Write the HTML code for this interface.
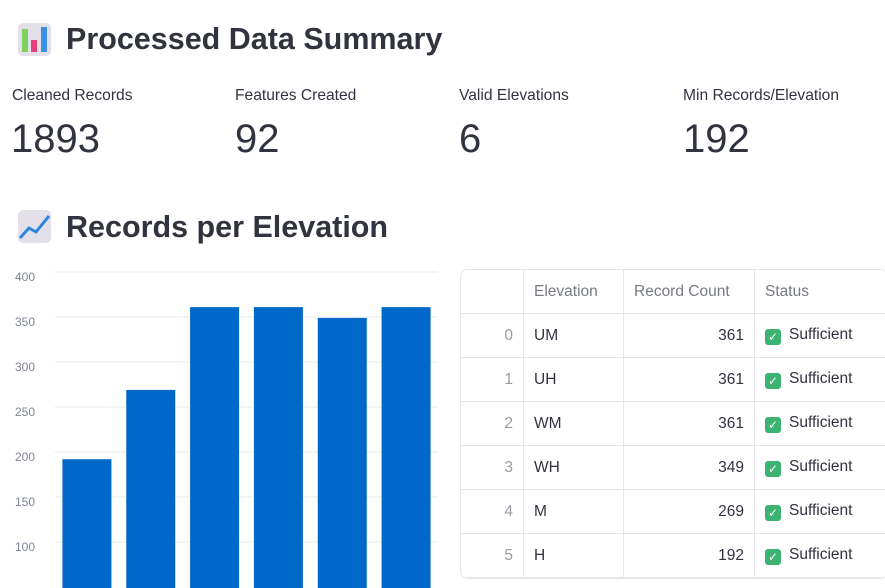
<!DOCTYPE html>
<html><head><meta charset="utf-8"><style>
body{margin:0;width:885px;height:588px;overflow:hidden;background:#fff;font-family:"Liberation Sans",sans-serif;color:#31333f;position:relative}
.abs{position:absolute}
h1{margin:0;position:absolute;font-size:30.5px;font-weight:bold;white-space:nowrap}
.lbl{font-size:15.6px;color:#31333f}
.val{font-size:40px;color:#31333f}
table{border-collapse:collapse;font-size:15.5px}
.tbl{position:absolute;left:460px;top:269px;width:426px;height:308px;border:1px solid #e6e7ea;border-radius:8px;overflow:hidden}
td,th{border:1px solid #e6e7ea;height:43px;padding:0 10px;font-weight:normal}
th{color:#777a85;text-align:left}
.chk{display:inline-block;width:16px;height:16px;background:#3cb371;border-radius:3px;color:#fff;font-size:12px;text-align:center;line-height:16px;vertical-align:-2px;margin-right:8px}
</style></head><body>
<div class="abs" style="left:18px;top:23px;width:33px;height:33px;background:#e3e0ea;border-radius:5px">
<div class="abs" style="left:4px;top:6px;width:6px;height:23px;background:#7dd35a"></div>
<div class="abs" style="left:13px;top:17px;width:6px;height:12px;background:#e83e7a"></div>
<div class="abs" style="left:23px;top:4px;width:6px;height:25px;background:#3a8ee6"></div></div>
<h1 style="left:66px;top:22px">Processed Data Summary</h1>
<div class="abs lbl" style="left:12px;top:87px">Cleaned Records</div>
<div class="abs val" style="left:11px;top:117px">1893</div>
<div class="abs lbl" style="left:235px;top:87px">Features Created</div>
<div class="abs val" style="left:235px;top:117px">92</div>
<div class="abs lbl" style="left:459px;top:87px">Valid Elevations</div>
<div class="abs val" style="left:459px;top:117px">6</div>
<div class="abs lbl" style="left:683px;top:87px">Min Records/Elevation</div>
<div class="abs val" style="left:683px;top:117px">192</div>
<div class="abs" style="left:18px;top:210px;width:33px;height:33px;background:#e3e0ea;border-radius:5px">
<svg width="33" height="33"><polyline points="2,28 11,18 18,22 31,6" fill="none" stroke="#2f86e0" stroke-width="3"/></svg></div>
<h1 style="left:66px;top:210px">Records per Elevation</h1>
<svg class="abs" style="left:0;top:260px" width="450" height="328" id="chart"></svg>
<div class="tbl">
<table style="width:427px;margin:-1px">
<tr><th style="width:42px"></th><th style="width:79px">Elevation</th><th style="width:110px">Record Count</th><th>Status</th></tr>
<tbody id="tb"></tbody></table></div>
<script>
const categories=["H","M","UH","UM","WH","WM"];
const values=[192,269,361,361,349,361];
const ticks=[100,150,200,250,300,350,400];
const tableElev=["UM","UH","WM","WH","M","H"];
const tableCounts=[361,361,361,349,269,192];
const svg=document.getElementById('chart');const NS='http://www.w3.org/2000/svg';
const plotX0=55,plotX1=438,plotTop=12,ppu=0.9;
const yScale=v=>plotTop+(400-v)*ppu;
ticks.forEach(t=>{
 const l=document.createElementNS(NS,'line');
 
 
 l.setAttribute('x1',plotX0);l.setAttribute('x2',plotX1);l.setAttribute('y1',yScale(t));l.setAttribute('y2',yScale(t));l.setAttribute('stroke','#e6e9ef');svg.appendChild(l);
 const tx=document.createElementNS(NS,'text');
 
 
 tx.setAttribute('x',35);tx.setAttribute('y',yScale(t)+9);tx.setAttribute('text-anchor','end');tx.setAttribute('font-size','12');tx.setAttribute('fill','#808495');tx.textContent=t;svg.appendChild(tx);
});
const band=(plotX1-plotX0)/categories.length,bw=49;
values.forEach((v,i)=>{
 const r=document.createElementNS(NS,'rect');
 
 
 r.setAttribute('x',plotX0+band*i+(band-bw)/2);r.setAttribute('y',yScale(v));r.setAttribute('width',bw);r.setAttribute('height',Math.max(0,328-yScale(v)));r.setAttribute('fill','#0068c9');svg.appendChild(r);
});
const tb=document.getElementById('tb');
tableElev.forEach((e,i)=>{
 const tr=document.createElement('tr');
 
 
 tr.innerHTML='<td style="text-align:right;color:#9a9ca5">'+i+'</td><td>'+e+'</td><td style="text-align:right">'+tableCounts[i]+'</td><td><span class="chk">✓</span>Sufficient</td>';
 tb.appendChild(tr);
});
</script>
</body></html>
